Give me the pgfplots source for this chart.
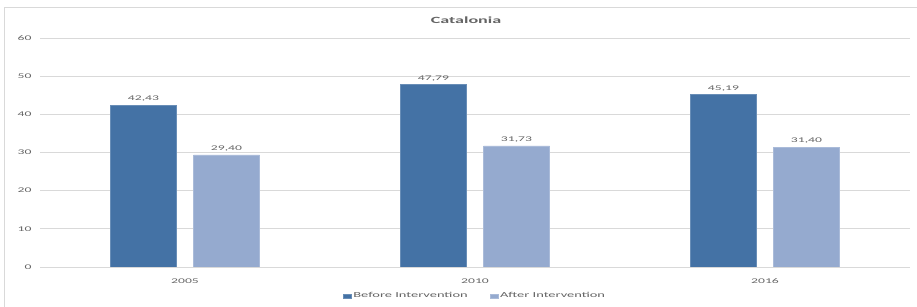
\documentclass[border=0pt]{standalone}
\usepackage{pgfplots}
\pgfplotsset{compat=1.18}
\usepackage{fontspec}
\setmainfont{Carlito}[FakeStretch=1.9]
\definecolor{barA}{RGB}{68,114,165}
\definecolor{barB}{RGB}{149,170,207}
\definecolor{txt}{RGB}{100,100,100}
\definecolor{grd}{RGB}{217,217,217}
\begin{document}
\begin{tikzpicture}[x=1pt,y=1pt]
\useasboundingbox (0,0) rectangle (917,307);
\draw[grd,line width=1pt] (4.5,-5) -- (4.5,299) -- (925,299);
\begin{axis}[
  at={(40pt,40pt)}, anchor=south west,
  scale only axis, width=870pt, height=229pt,
  xmin=-0.5, xmax=2.5, ymin=0, ymax=60,
  ytick={0,10,...,60},
  xtick={0,1,2}, xticklabels={\mbox{2005},\mbox{2010},\mbox{2016}},
  ymajorgrids, major grid style={grd,line width=0.8pt},
  axis line style={draw=none},
  tick style={draw=none},
  ybar, bar width=66pt,
  tick label style={font=\fontsize{7.2}{8}\selectfont, text=txt},
  /pgf/number format/assume math mode=true,
  nodes near coords,
  nodes near coords style={font=\fontsize{7.2}{8}\selectfont, text=txt,
    /pgf/number format/.cd, fixed, fixed zerofill, precision=2, use comma, assume math mode=true},
  legend style={at={(0.5,-0.127)}, anchor=center, draw=none, legend columns=2,
    font=\fontsize{7.6}{8}\selectfont, text=txt, /tikz/every even column/.append style={column sep=20pt}},
  legend image code/.code={\fill[#1] (0pt,-2pt) rectangle (8pt,2pt);},
  xticklabel style={yshift=-4pt},
  yticklabel style={xshift=-5pt},
]
\addplot[fill=barA, draw=barA!80!white, bar shift=-41.5pt] coordinates {(0,42.43) (1,47.79) (2,45.19)};
\addplot[fill=barB, draw=barB!80!white, bar shift=41.5pt] coordinates {(0,29.40) (1,31.73) (2,31.40)};
\legend{Before Intervention, After Intervention}
\end{axis}
\node[font=\fontsize{9.5}{10}\selectfont\bfseries, text=txt] at (466,287) {Catalonia};
\end{tikzpicture}
\end{document}
